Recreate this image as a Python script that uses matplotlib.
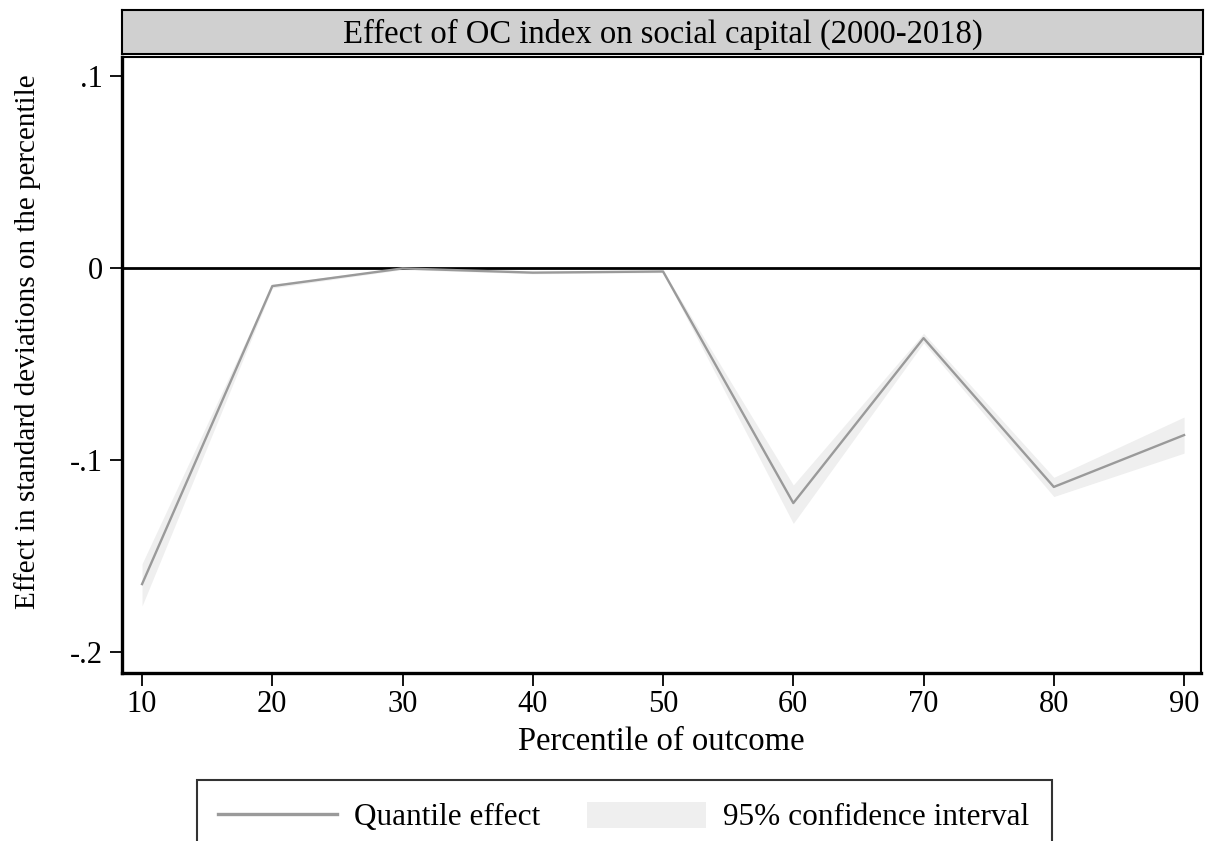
import numpy as np
import matplotlib
matplotlib.use("Agg")
import matplotlib.pyplot as plt
from matplotlib.lines import Line2D
from matplotlib.patches import Patch

plt.rcParams['font.family'] = ['Liberation Serif', 'DejaVu Serif']

# data
percentile = [10, 20, 30, 40, 50, 60, 70, 80, 90]
effect = [-0.1646, -0.0094, -0.0002, -0.0024, -0.0018, -0.1224, -0.0365, -0.1140, -0.0870]
ci_low = [-0.1760, -0.0104, -0.0008, -0.0030, -0.0024, -0.1330, -0.0390, -0.1190, -0.0964]
ci_high = [-0.1540, -0.0084, 0.0004, -0.0018, -0.0012, -0.1130, -0.0340, -0.1090, -0.0776]

yticks = [-0.2, -0.1, 0, 0.1]
ytick_labels = ["-.2", "-.1", "0", ".1"]

W, H = 1210, 841
fig = plt.figure(figsize=(W / 100, H / 100), dpi=100)
fig.patch.set_facecolor("white")

# main plot area
ax = fig.add_axes([122 / W, (H - 673) / H, (1201 - 122) / W, (673 - 57) / H])
ax.fill_between(percentile, ci_low, ci_high, color="#efefef", linewidth=0, zorder=1)
ax.plot(percentile, effect, color="#9a9a9a", linewidth=1.7, zorder=3)
ax.axhline(0, color="black", linewidth=2.0, zorder=2)

ax.set_xlim(8.46, 91.3)
ax.set_ylim(-0.2109, 0.1099)
ax.set_xticks(percentile)
ax.set_yticks(yticks)
ax.set_yticklabels(ytick_labels)
ax.tick_params(axis="both", direction="out", length=9, width=1.3, labelsize=22, pad=5)
ax.tick_params(axis="x", pad=3)
for side in ["left", "bottom"]:
    ax.spines[side].set_linewidth(2.4)
for side in ["right", "top"]:
    ax.spines[side].set_linewidth(1.5)

ax.set_xlabel("Percentile of outcome", fontsize=23.5, labelpad=6)
fig.text(28 / W, 1 - 342 / H, "Effect in standard deviations on the percentile",
         rotation=90, ha="center", va="center", fontsize=21)

# title box
tax = fig.add_axes([122 / W, (H - 54) / H, (1203 - 122) / W, 44 / H])
tax.set_facecolor("#d0d0d0")
tax.set_xticks([])
tax.set_yticks([])
for s in tax.spines.values():
    s.set_linewidth(1.5)
tax.text(0.5, 0.45, "Effect of OC index on social capital (2000-2018)",
         ha="center", va="center", fontsize=23.5, transform=tax.transAxes)

# legend
handles = [Line2D([], [], color="#9a9a9a", linewidth=2.4),
           Patch(facecolor="#efefef", edgecolor="none")]
leg = fig.legend(handles, ["Quantile effect", "95% confidence interval"],
                 loc="center", bbox_to_anchor=(624 / W, 24 / H), ncol=2,
                 fontsize=22.5, frameon=True, fancybox=False, edgecolor="black",
                 handlelength=3.8, handleheight=0.9, handletextpad=0.55,
                 columnspacing=1.5, borderpad=0.7)
leg.get_frame().set_linewidth(1.5)

fig.savefig("out.png", dpi=100)
